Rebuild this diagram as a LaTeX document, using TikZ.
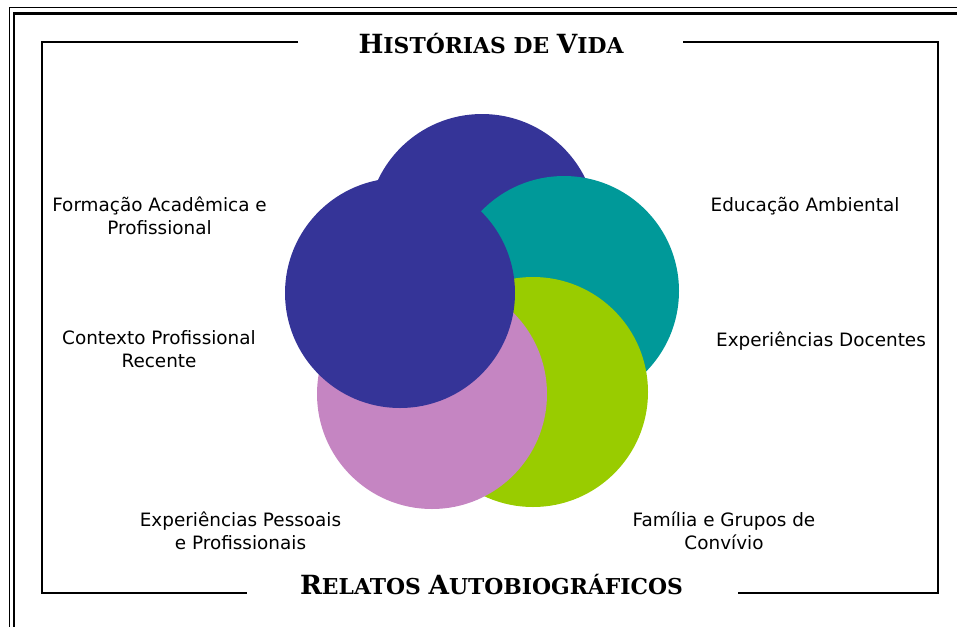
\documentclass[tikz,border=0pt]{standalone}
\usepackage{fontspec}
\setmainfont{DejaVu Sans}
\newfontfamily\titlefont{DejaVu Serif}[BoldFont={DejaVu Serif Bold}]
\definecolor{cblue}{HTML}{353498}
\definecolor{cteal}{HTML}{009999}
\definecolor{cgreen}{HTML}{99CC00}
\definecolor{cpink}{HTML}{C585C2}
\newcommand\capletter[1]{{\fontsize{19.8}{22}\selectfont #1}}
\tikzset{
  bubble/.style={circle, minimum size=172.5pt, inner sep=0pt},
  labeltext/.style={font=\fontsize{13.8}{17.25}\selectfont, align=center, anchor=base, inner sep=0pt},
  titletext/.style={font={\titlefont\bfseries\fontsize{16.4}{18}\selectfont}, anchor=base, inner sep=0pt},
  frameline/.style={line width=1.5pt}
}
\begin{document}
\begin{tikzpicture}[x=0.75pt,y=-0.75pt]
      \clip (0,0) rectangle (957,626);
      \useasboundingbox (0,0) rectangle (957,626);
      % page border
      \draw[line width=0.75pt] (9.5,7.5) rectangle (975,645);
      \draw[line width=1.9pt] (14,13.5) rectangle (970,640);

      \coordinate(tl) at (42,42);
      \coordinate(tr) at (938,42);
      \coordinate(bl) at (42,593);
      \coordinate(br) at (938,593);
      \coordinate(t1) at (298,42);
      \coordinate(t2) at (683,42);
      \coordinate(b1) at (247,593);
      \coordinate(b2) at (738,593);
      %
      \draw[frameline] (t1) -- (tl) -- (bl) -- (b1);
      \draw[frameline] (t2) -- (tr) -- (br) -- (b2);

      \node[titletext](historias) at (491,53){\capletter{H}ISTÓRIAS DE \capletter{V}IDA};
      \node[titletext](relatos) at (491.5,594){\capletter{R}ELATOS \capletter{A}UTOBIOGRÁFICOS};

      \node[bubble, fill=cblue](c1) at (482,229){};
      \node[bubble, fill=cteal](c2) at (564,291){};
      \node[bubble, fill=cgreen](c3) at (533,392){};
      \node[bubble, fill=cpink](c4) at (432,394){};
      \node[bubble, fill=cblue](c5) at (400,293){};

      % base = last line
      \node[labeltext](formacao) at (159.5,234){Formação Acadêmica e\\Profissional};
      \node[labeltext](educacao) at (805,211){Educação Ambiental};
      \node[labeltext](contexto) at (159,367){Contexto Profissional\\Recente};
      \node[labeltext](docentes) at (821,346){Experiências Docentes};
      \node[labeltext](pessoais) at (240.5,549){Experiências Pessoais\\e Profissionais};
      \node[labeltext](familia) at (724,549){Família e Grupos de\\Convívio};

    \end{tikzpicture}
\end{document}
